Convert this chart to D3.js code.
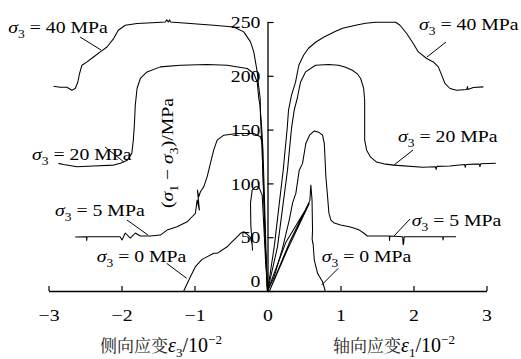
<!DOCTYPE html>
<html><head><meta charset="utf-8">
<script src="https://cdn.jsdelivr.net/npm/d3@7/dist/d3.min.js"></script>
</head>
<body style="margin:0">
<svg id="chart" width="521" height="359"></svg>
<script>
// ---- data: x in 10^-2 strain (negative = lateral, positive = axial), y = (σ1-σ3) in MPa
const xTicks = [-3,-2,-1,0,1,2,3];
const xTickLabels = ["−3","−2","−1","0","1","2","3"];
const yTicks = [0,50,100,150,200,250];
const yTickLabels = ["0","50","100","150","200","250"];
const confining = ["40","20","5","0"];

const axial40 = [[0,0],[0.092,41],[0.215,112.3],[0.27,151.3],[0.288,168.1],[0.329,182],[0.384,194.1],[0.429,209.8],[0.494,219.1],[0.562,225.6],[0.658,231.2],[0.768,235.8],[0.933,241.4],[1.029,244.2],[1.207,247],[1.344,248.8],[1.481,249.8],[1.756,249.8],[1.815,247],[1.907,239.3],[1.997,230],[2.066,222.2],[2.181,216.1],[2.271,212.9],[2.34,208.3],[2.386,200.6],[2.431,192.9],[2.5,188.2],[2.592,186.6],[2.729,187.3],[2.74,190],[2.745,187.3],[2.82,189.1],[2.957,189.7]];
const axial20 = [[0,0],[0.137,41],[0.274,112.3],[0.329,151.3],[0.366,168.1],[0.407,178.9],[0.453,194.3],[0.521,203.6],[0.658,209.8],[0.837,210.5],[0.974,209.8],[1.07,208],[1.162,205.2],[1.235,201.5],[1.276,197.5],[1.317,188.5],[1.331,177.3],[1.331,140.2],[1.358,130.9],[1.413,124.4],[1.495,119.8],[1.619,117.9],[1.728,117],[2.126,115.1],[2.3,115.5],[2.31,113],[2.32,115.8],[2.497,116.1],[2.7,117.5],[2.71,115],[2.72,117.6],[2.853,117.9],[2.9,118],[2.91,115.5],[2.92,118.2],[3.128,118.8]];
const axial5 = [[0,0],[0.092,13.3],[0.206,39.9],[0.298,65.9],[0.343,81.7],[0.388,90.7],[0.435,112.3],[0.48,118.6],[0.525,137.1],[0.576,144.8],[0.641,148.8],[0.7,147.6],[0.754,144.8],[0.778,137.1],[0.8,106.1],[0.823,87.6],[0.841,72.4],[0.868,65.9],[0.915,63.1],[1.001,61.3],[1.121,59.7],[1.18,58.5],[1.258,56.6],[1.317,53.9],[1.368,51.1],[1.669,51.1],[1.672,47],[1.676,51.1],[1.852,50.4],[1.858,43],[1.866,44.6],[1.872,50.4],[2.4,50.4],[2.405,47.5],[2.41,50.4],[2.583,50.4]];
const axial0 = [[0,0],[0.25,45],[0.572,81.4],[0.27,38],[0.03,0.5],[0.3,45],[0.58,84],[0.594,98.4],[0.61,84.5],[0.617,56.6],[0.612,48],[0.622,44],[0.624,44.6],[0.641,28.8],[0.686,16.4],[0.754,8.6],[0.791,0]];

const lateral40 = [[0,0],[-0.027,38.1],[-0.051,84.5],[-0.073,130.9],[-0.096,161.8],[-0.1,178.9],[-0.123,191.3],[-0.141,203.6],[-0.188,222.2],[-0.233,231.5],[-0.325,240.8],[-0.462,245.4],[-0.737,247],[-1.056,248.6],[-1.331,250],[-1.34,252],[-1.36,250],[-1.38,252],[-1.4,250],[-1.513,249.5],[-1.787,248.6],[-1.948,247],[-2.044,242.3],[-2.108,234.6],[-2.199,226.8],[-2.291,222.2],[-2.383,217.5],[-2.473,212.9],[-2.542,209.8],[-2.575,202.1],[-2.599,194],[-2.634,188.2],[-2.679,186.6],[-2.748,189.4],[-2.84,189.4],[-2.931,190.3]];
const lateral20 = [[0,0],[-0.021,38],[-0.041,84.5],[-0.062,130.9],[-0.082,154.1],[-0.103,172.7],[-0.119,178.9],[-0.141,194.3],[-0.188,202.1],[-0.278,206.8],[-0.553,209.8],[-0.827,210.5],[-1.193,209.8],[-1.468,208.3],[-1.65,203.6],[-1.742,197.5],[-1.787,188.2],[-1.811,172.7],[-1.824,154.1],[-1.838,140.2],[-1.859,127.9],[-1.92,121.6],[-2.016,118.8],[-2.108,117],[-2.383,116.1],[-2.61,115.4],[-2.794,117.6],[-2.863,118.6]];
const lateral5 = [[0,0],[-0.027,38],[-0.048,84.5],[-0.069,121.6],[-0.073,137.1],[-0.096,143.3],[-0.188,146.4],[-0.416,146.4],[-0.599,144.8],[-0.69,140.2],[-0.737,130.9],[-0.782,118.6],[-0.827,106.1],[-0.874,96.8],[-0.919,92.2],[-0.942,87.6],[-0.96,93.8],[-0.933,75.2],[-0.964,84.5],[-0.988,72.1],[-1.033,69],[-1.101,64.3],[-1.239,59.7],[-1.376,56.6],[-1.468,52],[-1.605,51.1],[-1.742,51.1],[-1.81,53.9],[-1.879,49.2],[-1.948,53.9],[-1.993,47.4],[-2.02,50.4],[-2.154,50.4],[-2.473,50.4],[-2.476,47],[-2.48,50.4],[-2.634,50.1]];
const lateral0 = [[0,0],[-0.027,28.8],[-0.055,65.9],[-0.073,89.1],[-0.119,96.8],[-0.165,96.8],[-0.21,93.8],[-0.233,81.7],[-0.228,61],[-0.205,38],[-0.21,43],[-0.235,50],[-0.325,55.1],[-0.37,53.6],[-0.416,50.4],[-0.484,45.8],[-0.553,41.1],[-0.69,35],[-0.737,35],[-0.896,29.4],[-0.988,22.6],[-1.056,13.3],[-1.148,0]];

const series = [axial40, axial20, axial5, axial0, lateral40, lateral20, lateral5, lateral0];

// annotation anchors (data units): [textX, textY, lineX1, lineY1, lineX2, lineY2, label index]
const annotations = [
  [-3.551,239.5,-2.568,236.1,-2.281,224,0],
  [2.075,242.6,2.445,231.4,2.185,217.5,0],
  [-3.226,121.7,-2.226,133.8,-1.966,119.9,1],
  [1.788,138.5,1.993,131,1.733,117.1,1],
  [-2.911,69.7,-1.925,66,-1.637,52,2],
  [1.975,60.4,1.952,66.9,1.733,51.1,2],
  [-2.34,27,-1.381,25.7,-1.107,11.8,3],
  [0.742,27,0.97,21.1,0.742,5.6,3]
];

// ---- drawing
const svg = d3.select("#chart");
const xs = d3.scaleLinear().domain([-3,3]).range([48.5,486.5]);
const ys = d3.scaleLinear().domain([0,250]).range([291,22]);
const SERIF = '"Liberation Serif"';
const CJK = '"Noto Serif CJK SC"';
const SX = 1.13, FS = 17.5;
function serif(sel, size){ return sel.style("font-family",SERIF).style("font-size",size+"px"); }

const line = d3.line().x(d=>xs(d[0])).y(d=>ys(d[1]));
svg.append("g").selectAll("path").data(series).join("path")
  .attr("d", line).attr("fill","none").attr("stroke","#000")
  .attr("stroke-width",1.05).attr("stroke-linejoin","round");

// x axis
const xAxis = d3.axisBottom(xs).tickValues(xTicks)
  .tickFormat((d,i)=>xTickLabels[i]).tickSizeInner(-5).tickSizeOuter(0).tickPadding(18);
const gx = svg.append("g").attr("transform",`translate(0,${ys(0)})`).call(xAxis);
gx.attr("font-family",null).attr("font-size",null);
gx.select(".domain").attr("stroke","#000").attr("stroke-width",1.3);
gx.selectAll(".tick line").attr("stroke","#000").attr("stroke-width",1.2);
serif(gx.selectAll(".tick text"), FS).attr("fill","#000").attr("transform",`scale(${SX},1)`);

// y axis
const yAxis = d3.axisLeft(ys).tickValues(yTicks)
  .tickFormat((d,i)=>yTickLabels[i]).tickSizeInner(-6).tickSizeOuter(0).tickPadding(0);
const gy = svg.append("g").attr("transform",`translate(${xs(0)},0)`).call(yAxis);
gy.attr("font-family",null).attr("font-size",null);
gy.select(".domain").attr("stroke","#000").attr("stroke-width",1.3);
gy.selectAll(".tick line").attr("stroke","#000").attr("stroke-width",1.2);
serif(gy.selectAll(".tick text"), FS).attr("fill","#000")
  .attr("x",0).attr("transform",d=>`translate(-7,${d===0?-10:0}) scale(${SX},1)`);

// annotations
const ann = svg.append("g");
annotations.forEach(a=>{
  ann.append("line").attr("x1",xs(a[2])).attr("y1",ys(a[3])).attr("x2",xs(a[4])).attr("y2",ys(a[5]))
    .attr("stroke","#000").attr("stroke-width",1);
  const t = serif(ann.append("text"), FS)
    .attr("transform",`translate(${xs(a[0])},${ys(a[1])}) scale(${SX},1)`).attr("fill","#000");
  t.append("tspan").style("font-style","italic").text("σ");
  t.append("tspan").style("font-size","12px").attr("dy",5).text("3");
  t.append("tspan").attr("dy",-5).text(" = " + confining[a[6]] + " MPa");
});

// y title
const yt = serif(svg.append("text"), FS)
  .attr("transform",`translate(173,153) rotate(-90) scale(${SX},1)`)
  .attr("text-anchor","middle").attr("fill","#000");
yt.append("tspan").text("(");
yt.append("tspan").style("font-style","italic").text("σ");
yt.append("tspan").style("font-size","12px").attr("dy",5).text("1");
yt.append("tspan").attr("dy",-5).text(" − ");
yt.append("tspan").style("font-style","italic").text("σ");
yt.append("tspan").style("font-size","12px").attr("dy",5).text("3");
yt.append("tspan").attr("dy",-5).text(")/MPa");

// x titles
function xTitle(cx, cn, sub){
  const t = svg.append("text").attr("x",cx).attr("y",352).attr("text-anchor","middle").attr("fill","#000");
  t.append("tspan").style("font-family",CJK).style("font-size","17px").attr("fill","#222").text(cn);
  serif(t.append("tspan"),20).style("font-style","italic").text("ε");
  serif(t.append("tspan"),13).attr("dy",5).text(sub);
  serif(t.append("tspan"),20).attr("dy",-5).text("/10");
  serif(t.append("tspan"),13).attr("dy",-8).text("−2");
}
xTitle(161, "侧向应变", "3");
xTitle(394, "轴向应变", "1");
</script>
</body></html>
